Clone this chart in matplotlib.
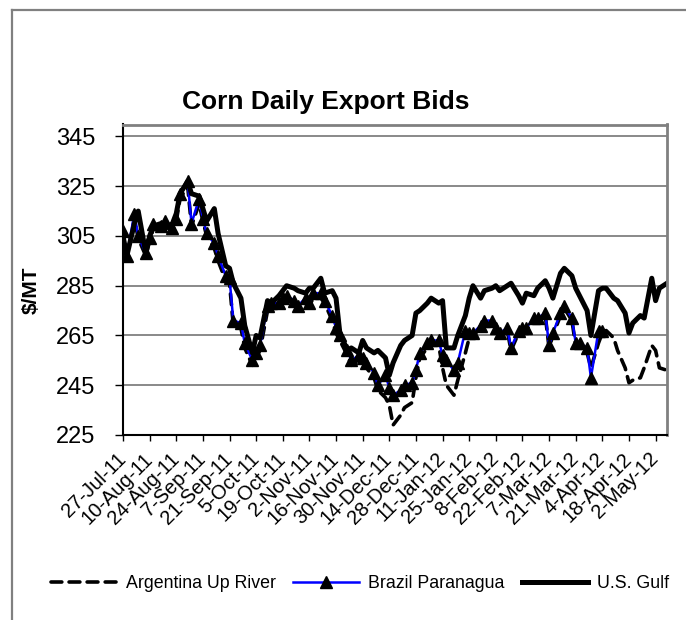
import matplotlib
matplotlib.use('Agg')
import matplotlib.pyplot as plt
import matplotlib.transforms as mtransforms
from matplotlib.lines import Line2D
import pandas as pd
import numpy as np

plt.rcParams['font.family'] = ['Liberation Sans', 'DejaVu Sans']

# bids sampled every 2nd business day from 27-Jul-11
start = '2011-07-27'

gulf = [305, 297, 310, 315, 298, 305, 309, 310, 308, 310,
        314, 322, 327, 322, 321, 316, 311, 316, 306, 293,
        292, 286, 280, 269, 258, 265, 264, 279, 278, 281,
        283, 285, 284, 283, 282, 284, 284, 288, 282, 283,
        280, 266, 259, 260, 258, 263, 260, 258, 259, 256,
        249, 254, 261, 263, 265, 274, 275, 278, 280, 278,
        279, 260, 260, 265, 273, 280, 285, 280, 283, 284,
        285, 283, 285, 286, 281, 278, 282, 281, 284, 287,
        284, 280, 290, 292, 289, 284, 281, 275, 265, 283,
        284, 284, 280, 279, 274, 266, 270, 273, 272, 288,
        279, 284, 286]

brazil = [307, 297, 314, 305, 298, 304, 310, 309, 311, 308,
          312, 322, 327, 310, 320, 312, 306, 302, 297, 289,
          288, 271, 270, 262, 255, 258, 261, 277, 278, 278,
          280, 281, 279, 277, 280, 278, 282, 282, 279, 273,
          268, 265, 259, 255, 257, 256, 254, 250, 245, 249,
          244, 241, 243, 245, 246, 251, 258, 262, 263, 263,
          257, 255, 251, 254, 267, 266, 266, 269, 271, 271,
          268, 266, 268, 260, 267, 268, 268, 272, 272, 274,
          261, 266, 274, 277, 272, 262, 262, 260, 248, 267,
          267]

argentina = [305, 296, 312, 304, 297, 303, 308, 308, 309, 307,
             311, 320, 325, 309, 318, 311, 305, 300, 295, 287,
             286, 269, 268, 260, 253, 256, 259, 275, 276, 277,
             278, 279, 278, 276, 278, 277, 280, 280, 278, 271,
             266, 263, 257, 253, 255, 254, 252, 248, 243, 240,
             237, 229, 233, 236, 238, 248, 256, 260, 262, 261,
             252, 245, 241, 247, 258, 264, 265, 268, 270, 270,
             267, 265, 267, 259, 266, 267, 267, 271, 271, 273,
             260, 265, 273, 276, 271, 261, 261, 258, 252, 262,
             266, 267, 264, 259, 252, 246, 247, 248, 252, 261,
             259, 252, 251]

series_names = ['Argentina Up River', 'Brazil Paranagua', 'U.S. Gulf']

dates_g = pd.date_range(start, periods=len(gulf), freq='2B')
dates_b = pd.date_range(start, periods=len(brazil), freq='2B')
dates_a = pd.date_range(start, periods=len(argentina), freq='2B')

W, H = 686, 620
fig = plt.figure(figsize=(W / 100, H / 100), dpi=100)
ax = fig.add_axes([123 / W, 1 - 435 / H, 544 / W, 310.5 / H])

la, = ax.plot(dates_a, argentina, color='black', lw=2.6, ls=(0, (3.0, 2.0)),
              dash_capstyle='round', label=series_names[0])
lb, = ax.plot(dates_b, brazil, color='#0000ff', lw=1.8, marker='^',
              markersize=8, markerfacecolor='black', markeredgecolor='black',
              label=series_names[1])
lg, = ax.plot(dates_g, gulf, color='black', lw=3.6, solid_joinstyle='round',
              label=series_names[2])

ax.set_xlim(pd.Timestamp('2011-07-27'), pd.Timestamp('2012-05-08'))
ax.set_ylim(225, 349.8)
ax.set_yticks(np.arange(225, 346, 20))

ticks = pd.date_range('2011-07-27', '2012-05-02', freq='14D')
ax.set_xticks(ticks)
ax.set_xticklabels([f"{d.day}-{d.strftime('%b-%y')}" for d in ticks],
                   rotation=45, ha='right', va='center', rotation_mode='anchor')
offset = mtransforms.ScaledTranslation(7 / 72, 0, fig.dpi_scale_trans)
for lbl in ax.get_xticklabels():
    lbl.set_transform(lbl.get_transform() + offset)

ax.tick_params(axis='y', direction='out', length=6, width=1, pad=14, labelsize=17)
ax.tick_params(axis='x', direction='out', length=4, width=1, pad=11, labelsize=14.5)

ax.yaxis.grid(True, color='#808080', lw=1.3)
ax.set_axisbelow(True)
for s in ['left', 'bottom']:
    ax.spines[s].set_color('black')
    ax.spines[s].set_linewidth(1.5)
for s in ['top', 'right']:
    ax.spines[s].set_color('#808080')
    ax.spines[s].set_linewidth(2)

fig.text(326 / W, 1 - 102 / H, 'Corn Daily Export Bids', ha='center', va='center',
         fontsize=19, fontweight='bold')
fig.text(31 / W, 1 - 290 / H, r'\$/MT', rotation=90, ha='center', va='center',
         fontsize=15, fontweight='bold')

fig.legend([la, lb, lg], series_names, loc='center', bbox_to_anchor=(360 / W, 1 - 584 / H),
           ncol=3, frameon=False, fontsize=12.8, handlelength=3.7, handletextpad=0.5,
           columnspacing=1.0)

# outer chart border
fig.add_artist(Line2D([12 / W, 12 / W], [0, 1 - 10 / H], transform=fig.transFigure,
                      color='#808080', lw=1.6))
fig.add_artist(Line2D([12 / W, 1], [1 - 10 / H, 1 - 10 / H], transform=fig.transFigure,
                      color='#808080', lw=1.6))

fig.savefig('out.png', dpi=100)
